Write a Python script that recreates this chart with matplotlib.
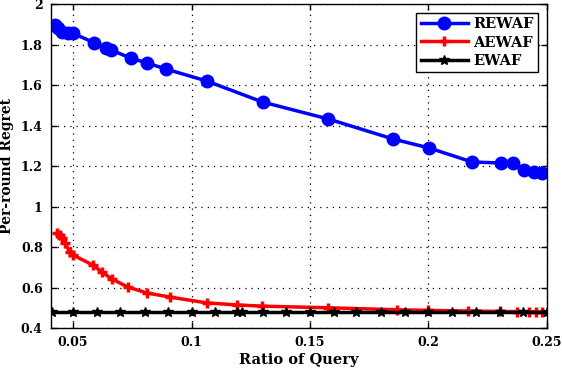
import matplotlib
matplotlib.use('Agg')
import matplotlib.pyplot as plt
from matplotlib.ticker import FuncFormatter

# values
rewaf_x = [0.0424, 0.0437, 0.0454, 0.048, 0.050, 0.0588, 0.0639, 0.066, 0.0744, 0.0812,
           0.0892, 0.1064, 0.130, 0.1578, 0.1852, 0.2003, 0.2184, 0.2306, 0.2357, 0.2403,
           0.2445, 0.2479]
rewaf_y = [1.896, 1.880, 1.862, 1.857, 1.855, 1.810, 1.783, 1.773, 1.733, 1.709,
           1.679, 1.620, 1.516, 1.432, 1.333, 1.289, 1.220, 1.215, 1.215, 1.180,
           1.170, 1.165]

aewaf_x = [0.0433, 0.0446, 0.0454, 0.0466, 0.0487, 0.050, 0.0584, 0.0622, 0.0664, 0.0732,
           0.0812, 0.0908, 0.1064, 0.119, 0.1296, 0.1574, 0.1868, 0.200, 0.2166, 0.230,
           0.2374, 0.2424, 0.2453, 0.2479]
aewaf_y = [0.869, 0.859, 0.844, 0.820, 0.775, 0.760, 0.711, 0.677, 0.642, 0.602,
           0.573, 0.553, 0.524, 0.514, 0.508, 0.500, 0.490, 0.487, 0.484, 0.482,
           0.481, 0.480, 0.480, 0.480]

ewaf_x = [0.0413, 0.050, 0.0601, 0.0698, 0.0803, 0.090, 0.1001, 0.1098, 0.119, 0.1212,
          0.130, 0.140, 0.1498, 0.160, 0.1696, 0.180, 0.190, 0.200, 0.210, 0.220,
          0.230, 0.240, 0.250]
ewaf_y = [0.48] * len(ewaf_x)

x_ticks = [0.05, 0.1, 0.15, 0.2, 0.25]
y_ticks = [0.4, 0.6, 0.8, 1.0, 1.2, 1.4, 1.6, 1.8, 2.0]

plt.rcParams['font.family'] = ['DejaVu Serif']
plt.rcParams['font.weight'] = 'bold'

fig = plt.figure(figsize=(5.62, 3.68), dpi=100)
ax = fig.add_axes([0.0907, 0.1087, 0.8826, 0.8803])

ax.plot(rewaf_x, rewaf_y, color='#0000ff', lw=2.5, marker='o', ms=9, label='REWAF')
ax.plot(aewaf_x, aewaf_y, color='#ff0000', lw=2.5, marker='+', ms=7, mew=2.5, label='AEWAF')
ax.plot(ewaf_x, ewaf_y, color='black', lw=2.5, marker='*', ms=7, label='EWAF')

ax.set_xlim(0.0407, 0.25)
ax.set_ylim(0.4, 2.0)
ax.set_xticks(x_ticks)
ax.set_yticks(y_ticks)
fmt = FuncFormatter(lambda v, p: '%g' % round(v, 3))
ax.xaxis.set_major_formatter(fmt)
ax.yaxis.set_major_formatter(fmt)
ax.tick_params(direction='in', top=True, right=True, labelsize=9, length=4, width=1, pad=6)
for lab in ax.get_xticklabels() + ax.get_yticklabels():
    lab.set_fontweight('bold')
ax.grid(True, color='black', linestyle=(0, (1, 4)), linewidth=0.9)
for s in ax.spines.values():
    s.set_linewidth(1.0)

ax.set_xlabel('Ratio of Query', fontsize=10.5, fontweight='bold', labelpad=3)
ax.set_ylabel('Per-round Regret', fontsize=10, fontweight='bold', labelpad=5)

leg = ax.legend(loc='upper right', fontsize=10.5, fancybox=False, framealpha=1,
                edgecolor='black', handlelength=3.2, borderaxespad=0.6,
                labelspacing=0.3, handletextpad=0.4, borderpad=0.3)
leg.get_frame().set_linewidth(1.0)
for t in leg.get_texts():
    t.set_fontweight('bold')

fig.savefig('out.png', dpi=100)
